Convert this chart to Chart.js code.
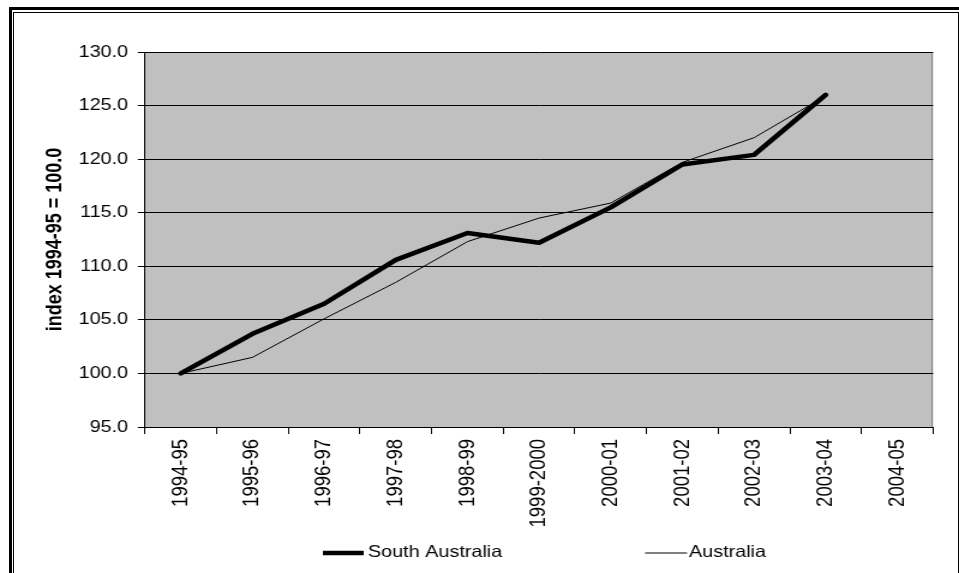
<!DOCTYPE html>
<html>
<head>
<meta charset="utf-8">
<script src="https://cdn.jsdelivr.net/npm/chart.js@4/dist/chart.umd.min.js"></script>
<style>
  html, body { margin: 0; padding: 0; background: #fff; overflow: hidden; }
  body { width: 959px; height: 573px; position: relative; }
  .frame-outer { position: absolute; left: 9px; top: 7px; width: 2000px; height: 2000px; border: 3px solid #000; }
  .frame-inner { position: absolute; left: 13px; top: 12px; width: 944px; height: 2000px; border: 1px solid #000; }
  #c { position: absolute; left: 0; top: 0; transform: scaleX(1.2003); transform-origin: 0 0; }
</style>
</head>
<body>
<div class="frame-outer"></div>
<div class="frame-inner"></div>
<canvas id="c" width="799" height="573"></canvas>
<script>
// Financial years on the category axis
const years = ['1994-95', '1995-96', '1996-97', '1997-98', '1998-99', '1999-2000',
               '2000-01', '2001-02', '2002-03', '2003-04', '2004-05'];
// Index values, 1994-95 = 100.0
const southAustralia = [100.0, 103.7, 106.5, 110.6, 113.1, 112.2, 115.5, 119.5, 120.4, 126.0, null];
const australia      = [100.0, 101.5, 105.1, 108.5, 112.3, 114.5, 115.9, 119.7, 122.0, 125.9, null];
// Value axis
const yMin = 95, yMax = 130, yStep = 5;
const yTitle = 'index 1994-95 = 100.0';

const FONT = "'Liberation Sans', Arial, sans-serif";

// Grey plot area with a thin grey right edge
const plotBackground = {
  id: 'plotBackground',
  beforeDraw(chart) {
    const { ctx, chartArea: a } = chart;
    ctx.save();
    ctx.fillStyle = '#c0c0c0';
    ctx.fillRect(a.left, a.top, a.right - a.left, a.bottom - a.top);
    ctx.strokeStyle = '#808080';
    ctx.lineWidth = 1;
    ctx.beginPath();
    ctx.moveTo(Math.round(a.right) - 0.5, a.top);
    ctx.lineTo(Math.round(a.right) - 0.5, a.bottom);
    ctx.stroke();
    ctx.restore();
  }
};

// Legend row under the axis labels: line sample followed by the series name
const lineLegend = {
  id: 'lineLegend',
  afterDraw(chart, args, opts) {
    const { ctx } = chart;
    ctx.save();
    ctx.font = opts.fontSize + 'px ' + FONT;
    ctx.textBaseline = 'middle';
    ctx.fillStyle = '#000';
    let x = opts.x;
    const y = opts.y;
    chart.data.datasets.forEach((ds, i) => {
      const item = opts.items[i];
      ctx.strokeStyle = ds.borderColor;
      ctx.lineWidth = ds.borderWidth;
      ctx.beginPath();
      ctx.moveTo(x, y + 1);
      ctx.lineTo(x + item.sample, y + 1);
      ctx.stroke();
      x += item.sample + item.gap;
      ctx.fillText(ds.label, x, y);
      x += ctx.measureText(ds.label).width + opts.spacing;
    });
    ctx.restore();
  }
};

new Chart(document.getElementById('c'), {
  type: 'line',
  data: {
    labels: years,
    datasets: [
      {
        label: 'South Australia',
        data: southAustralia,
        borderColor: '#000',
        borderWidth: 4.5,
        pointRadius: 0,
        tension: 0,
        borderJoinStyle: 'round',
        borderCapStyle: 'round',
        fill: false
      },
      {
        label: 'Australia',
        data: australia,
        borderColor: '#000',
        borderWidth: 1,
        pointRadius: 0,
        tension: 0,
        fill: false
      }
    ]
  },
  options: {
    responsive: false,
    animation: false,
    devicePixelRatio: 1,
    layout: { padding: { left: 35, right: 21.6, top: 52, bottom: 46 } },
    plugins: {
      legend: { display: false },
      tooltip: { enabled: false },
      lineLegend: {
        x: 269, y: 552, fontSize: 16.5, spacing: 119,
        items: [{ sample: 34, gap: 3.5 }, { sample: 35, gap: 1.6 }]
      }
    },
    scales: {
      x: {
        type: 'category',
        offset: true,
        grid: { offset: true, drawOnChartArea: false, drawTicks: true, tickLength: 7, color: '#000' },
        border: { display: true, color: '#000', width: 1 },
        ticks: {
          autoSkip: false, minRotation: 90, maxRotation: 90, padding: 5,
          color: '#000', font: { family: FONT, size: 18.5 }
        },
        afterFit(scale) { scale.height = 100; }
      },
      y: {
        min: yMin, max: yMax,
        grid: { color: '#000', tickLength: 6, drawTicks: true },
        border: { display: true, color: '#000', width: 1 },
        ticks: {
          stepSize: yStep, padding: 8, color: '#000',
          font: { family: FONT, size: 16.5 },
          callback: v => Number(v).toFixed(1)
        },
        title: {
          display: true, text: yTitle, color: '#000',
          padding: { top: 0, bottom: 0 },
          font: { family: FONT, size: 18, weight: 'bold', lineHeight: 1.2 }
        },
        afterFit(scale) { scale.width = 85.8; }
      }
    }
  },
  plugins: [plotBackground, lineLegend]
});
</script>
</body>
</html>
